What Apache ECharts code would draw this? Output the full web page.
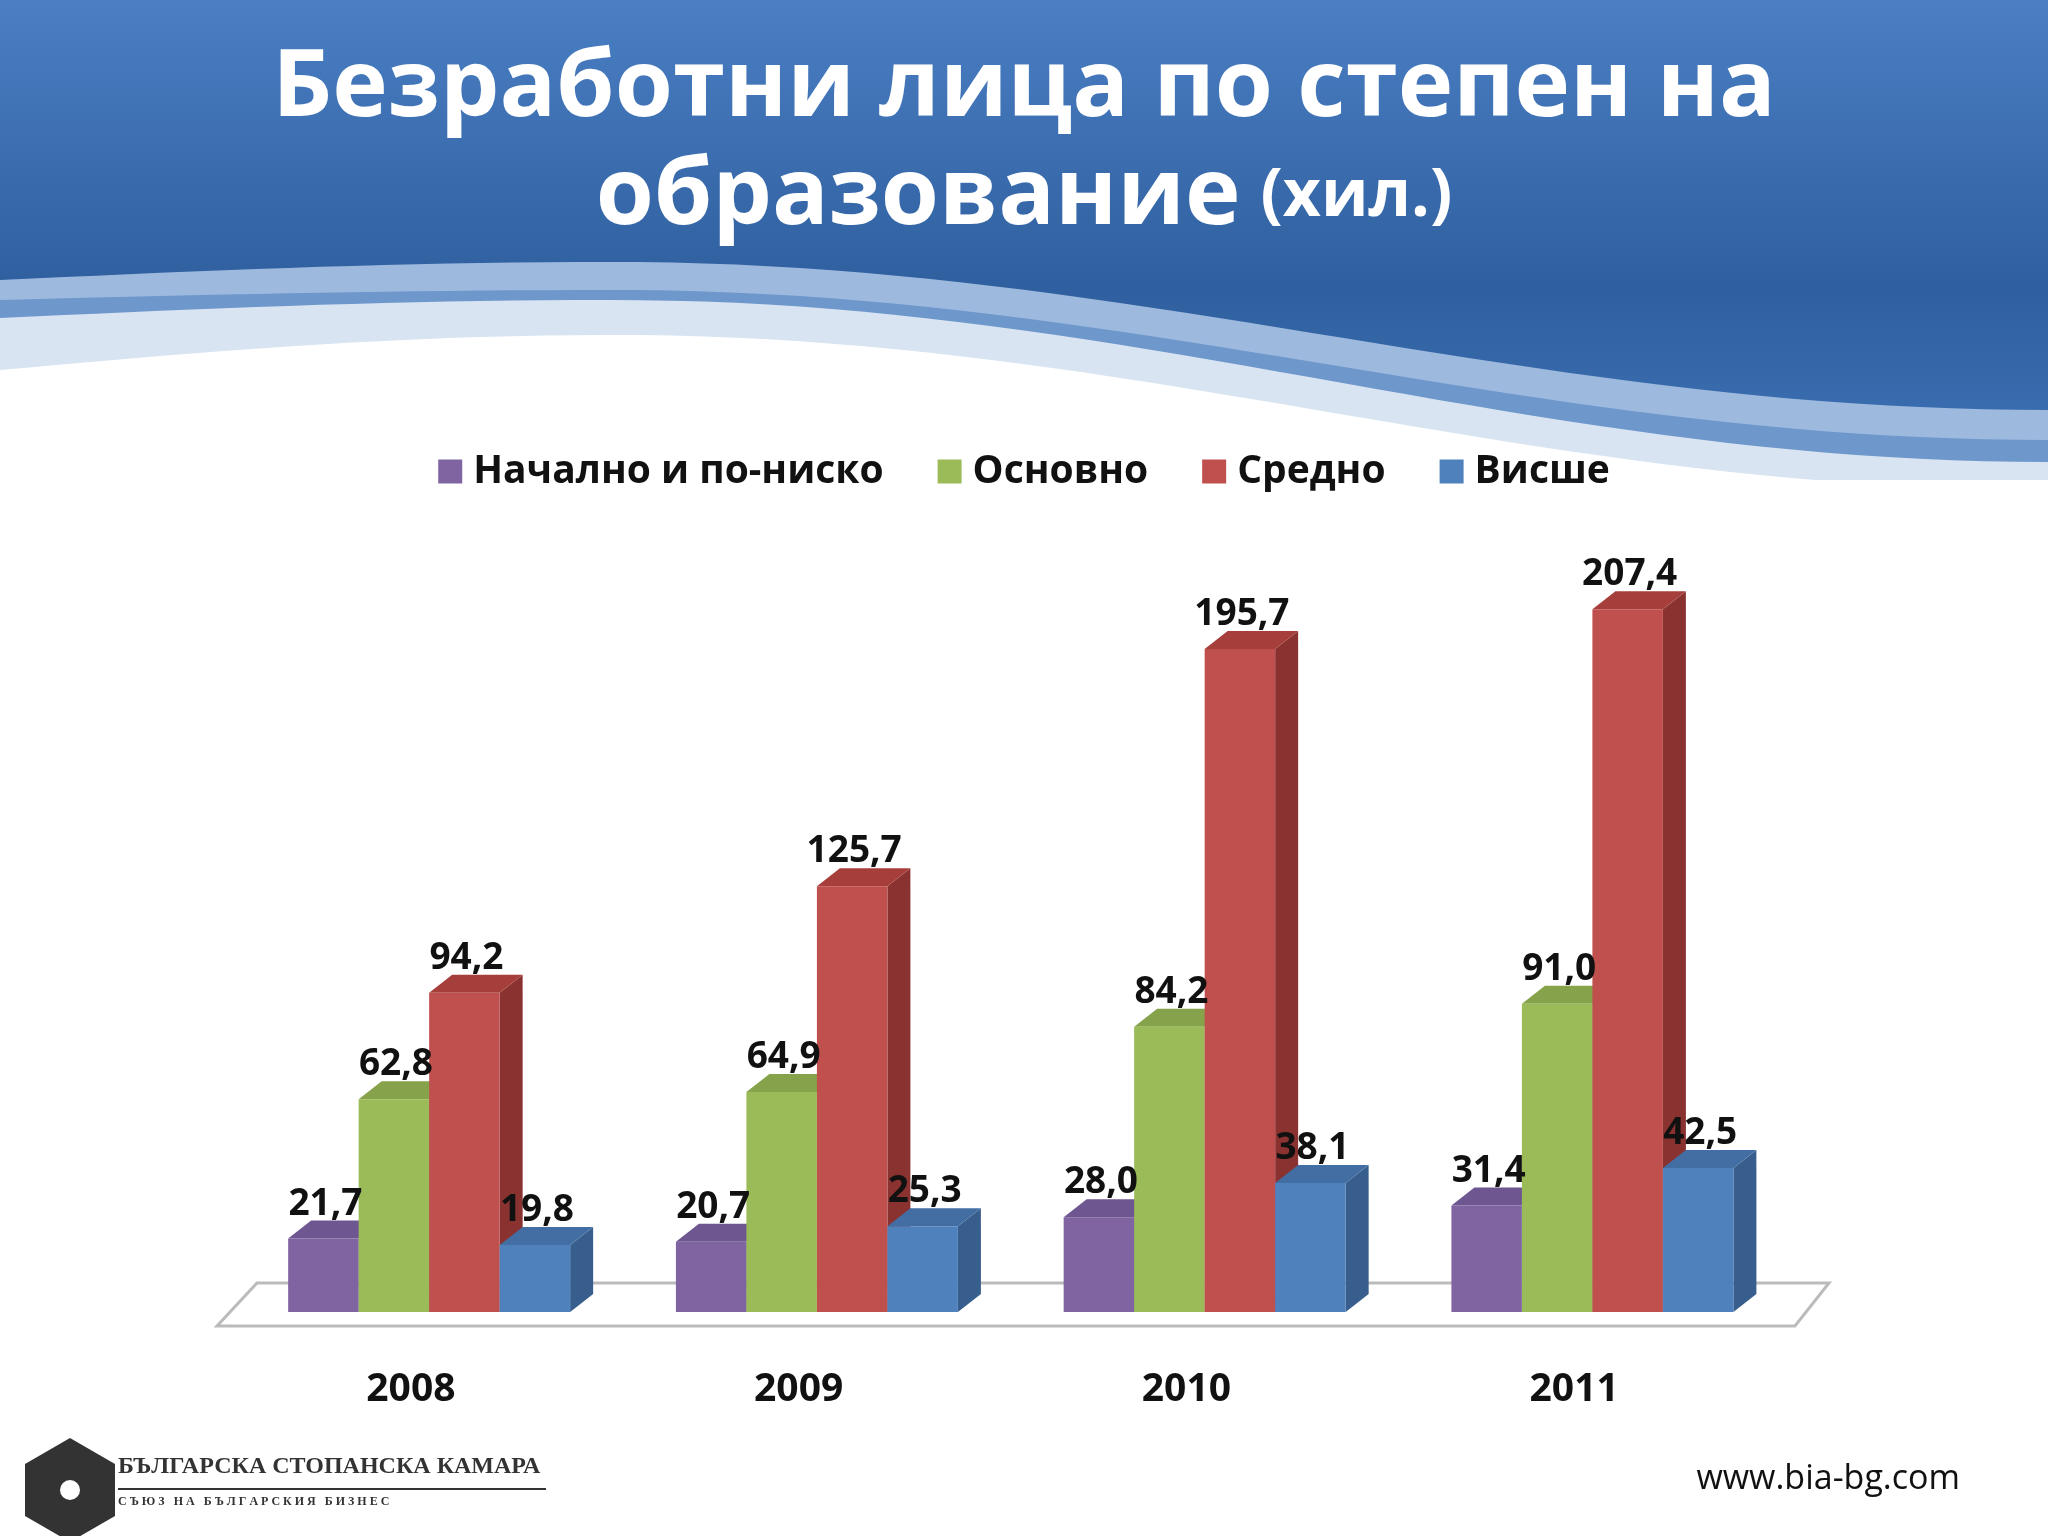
<!DOCTYPE html>
<html><head><meta charset="utf-8">
<script src="https://cdn.jsdelivr.net/npm/echarts@6/dist/echarts.min.js"></script>
<style>html,body{margin:0;padding:0;background:#fff}#c{width:2048px;height:1536px}</style>
</head><body><div id="c"></div>
<script>
const categories = ['2008','2009','2010','2011'];
const seriesNames = ['Начално и по-ниско','Основно','Средно','Висше'];
const primary = [21.7,20.7,28.0,31.4];
const basic = [62.8,64.9,84.2,91.0];
const secondary = [94.2,125.7,195.7,207.4];
const higher = [19.8,25.3,38.1,42.5];
const values = [primary,basic,secondary,higher];
const colors = ['#8064A2','#9BBB59','#C0504D','#4F81BD'];
const sideC = ['#5E4A7A','#718A3F','#8A3230','#375E8C'];
const topC = ['#6E5690','#86A34B','#A63F3C','#426EA3'];

function wave(yl, ym, yr, bottom){
  const pts=[];
  for(let x=0;x<=2048;x+=32){
    const t=x/2048;
    const y = t<0.3 ? yl+(ym-yl)*Math.sin(t/0.3*Math.PI/2) : ym+(yr-ym)*(1-Math.cos((t-0.3)/0.7*Math.PI))/2;
    pts.push([x,y]);
  }
  pts.push([2048,bottom],[0,bottom]);
  return pts;
}

const chart = echarts.init(document.getElementById('c'));
const DX = 23, DY = -18;
function mk(s){
  return {
    type:'custom', name:seriesNames[s], color:colors[s],
    data: values[s].map((v,i)=>[i,v]),
    renderItem:function(params, api){
      const i = api.value(0), v = api.value(1);
      const p = api.coord([i,v]), p0 = api.coord([i,0]);
      const band = api.size([1,0])[0];
      const bw = band*54/297;
      const x = p[0] - 2*bw + s*bw + band*14/297;
      const y = p[1], yb = p0[1];
      const lbl = v.toFixed(1).replace('.',',');
      return {type:'group', children:[
        {type:'polygon', shape:{points:[[x+bw,y],[x+bw+DX,y+DY],[x+bw+DX,yb+DY],[x+bw,yb]]}, style:{fill:sideC[s]}},
        {type:'polygon', shape:{points:[[x,y],[x+DX,y+DY],[x+bw+DX,y+DY],[x+bw,y]]}, style:{fill:topC[s]}},
        {type:'rect', shape:{x:x,y:y,width:bw,height:yb-y}, style:{fill:colors[s]}},
        {type:'text', z2:100, style:{text:lbl, x:x+bw/2+2, y:y+DY+2, textAlign:'center', textVerticalAlign:'bottom', font:'bold 37px "Open Sans", sans-serif', fill:'#111'}}
      ]};
    }
  };
}
chart.setOption({
  animation:false,
  legend:{top:447, left:'center', itemWidth:24, itemHeight:24, itemGap:54, icon:'rect',
    textStyle:{fontSize:39, fontWeight:'bold', fontFamily:'"Open Sans", sans-serif', color:'#111', padding:[0,0,0,6]},
    data:seriesNames},
  grid:{left:217, right:280, top:465, bottom:224},
  xAxis:{type:'category', data:categories, axisLine:{show:false}, axisTick:{show:false},
    axisLabel:{margin:58, fontSize:39, fontWeight:'bold', fontFamily:'"Open Sans", sans-serif', color:'#111'}},
  yAxis:{type:'value', min:0, max:250, show:false, splitLine:{show:false}},
  graphic:[
    {type:'rect', z:-10, shape:{x:0,y:0,width:2048,height:480}, style:{fill:new echarts.graphic.LinearGradient(0,0,0,1,[{offset:0,color:'#4A7FC4'},{offset:0.6,color:'#2F5F9E'},{offset:1,color:'#3F74B8'}])}},
    {type:'polygon', z:-9, shape:{points:wave(280,262,410,480)}, style:{fill:'#9DB9DE'}},
    {type:'polygon', z:-8, shape:{points:wave(300,290,440,480)}, style:{fill:'#6E97CC'}},
    {type:'polygon', z:-7, shape:{points:wave(318,300,462,480)}, style:{fill:'#D8E4F2'}},
    {type:'polygon', z:-6, shape:{points:wave(370,335,490,490)}, style:{fill:'#ffffff'}},
    {type:'text', left:'center', top:42, style:{text:'Безработни лица по степен на', font:'bold 94px "Open Sans", sans-serif', fill:'#fff'}},
    {type:'text', left:'center', top:150, style:{rich:{a:{font:'bold 94px "Open Sans", sans-serif', fill:'#fff'},b:{font:'bold 66px "Open Sans", sans-serif', fill:'#fff', padding:[0,0,0,20]}}, text:'{a|образование}{b|(хил.)}'}},
    {type:'polygon', z:-1, shape:{points:[[217,1326],[1795,1326],[1829,1283],[257,1283]]}, style:{fill:'#fff', stroke:'#BBBBBB', lineWidth:3}},
    {type:'polygon', shape:{points:[[70,1438],[115,1464],[115,1516],[70,1542],[25,1516],[25,1464]]}, style:{fill:'#333'}},
    {type:'circle', shape:{cx:70,cy:1490,r:10}, style:{fill:'#fff'}},
    {type:'text', left:118, top:1455, style:{text:'БЪЛГАРСКА СТОПАНСКА КАМАРА', font:'bold 24px "Liberation Serif", serif', fill:'#333'}},
    {type:'rect', shape:{x:118,y:1488,width:428,height:2}, style:{fill:'#333'}},
    {type:'text', left:118, top:1496, style:{text:'С Ъ Ю З   Н А   Б Ъ Л Г А Р С К И Я   Б И З Н Е С', font:'bold 12px "Liberation Serif", serif', fill:'#333'}},
    {type:'text', right:88, top:1462, style:{text:'www.bia-bg.com', font:'34px "Open Sans", sans-serif', fill:'#111'}}
  ],
  series:[0,1,2,3].map(mk)
});
</script></body></html>
